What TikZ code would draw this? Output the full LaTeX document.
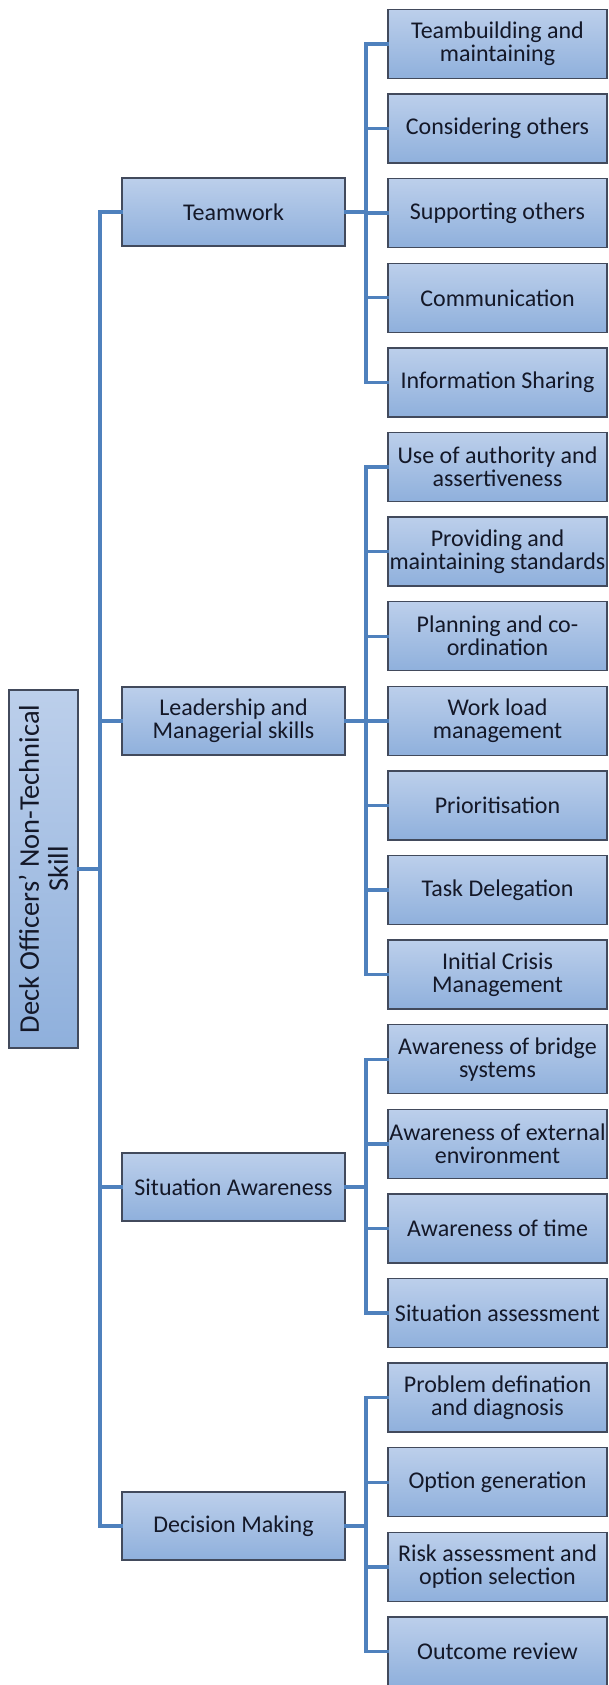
\documentclass[tikz,border=0pt]{standalone}
\usepackage{fontspec}
\setmainfont{Carlito}
\definecolor{boxtop}{RGB}{188,207,235}
\definecolor{boxbot}{RGB}{143,176,220}
\definecolor{boxline}{RGB}{66,74,92}
\definecolor{conncol}{RGB}{79,129,189}
\definecolor{txtcol}{RGB}{20,24,40}
\tikzset{
  box/.style={draw=boxline, line width=1.3pt, top color=boxtop, bottom color=boxbot,
    text=txtcol, align=center, inner sep=0pt, font=\fontsize{24}{23}\selectfont},
  leaf/.style={box, minimum width=219pt, minimum height=69pt},
  midbox/.style={box, minimum width=223pt, minimum height=68pt},
  rootbox/.style={box, rotate=90, minimum width=358pt, minimum height=69pt,
    font=\fontsize{28.5}{29}\selectfont},
  conn/.style={draw=conncol, line width=3.4pt, line cap=rect}
}
\begin{document}
\begin{tikzpicture}[x=1pt,y=-1pt]
\useasboundingbox (0,0) rectangle (608,1685);
% buses
\coordinate (rbus) at (100,0);
\coordinate (lbus) at (366,0);
% root
\node[rootbox] (root) at (43.5,869) {Deck Officers' Non-Technical\\Skill};
% middle level
\node[midbox] (tw) at (233.5,212) {Teamwork};
\node[midbox] (lm) at (233.5,721) {Leadership and\\Managerial skills};
\node[midbox] (sa) at (233.5,1187) {Situation Awareness};
\node[midbox] (dm) at (233.5,1526) {Decision Making};
% leaves
\foreach \t [count=\i] in {
  {Teambuilding and\\maintaining},
  {Considering others},
  {Supporting others},
  {Communication},
  {Information Sharing},
  {Use of authority and\\assertiveness},
  {Providing and\\maintaining standards},
  {Planning and co-\\ordination},
  {Work load\\management},
  {Prioritisation},
  {Task Delegation},
  {Initial Crisis\\Management},
  {Awareness of bridge\\systems},
  {Awareness of external\\environment},
  {Awareness of time},
  {Situation assessment},
  {Problem defination\\and diagnosis},
  {Option generation},
  {Risk assessment and\\option selection},
  {Outcome review}}
{
  \node[leaf] (L\i) at (497.5,{44+84.6*(\i-1)}) {\t};
  \draw[conn] (L\i.west -| lbus) -- (L\i.west);
}
% root connectors
\draw[conn] (root.south) -- (root.south -| rbus);
\draw[conn] (tw.west -| rbus) -- (dm.west -| rbus);
\foreach \m in {tw,lm,sa,dm} {
  \draw[conn] (\m.west -| rbus) -- (\m.west);
}
% middle to leaf buses
\draw[conn] (tw.east) -- (tw.east -| lbus);
\draw[conn] (L1.west -| lbus) -- (L5.west -| lbus);
\draw[conn] (lm.east) -- (lm.east -| lbus);
\draw[conn] (L6.west -| lbus) -- (L12.west -| lbus);
\draw[conn] (sa.east) -- (sa.east -| lbus);
\draw[conn] (L13.west -| lbus) -- (L16.west -| lbus);
\draw[conn] (dm.east) -- (dm.east -| lbus);
\draw[conn] (L17.west -| lbus) -- (L20.west -| lbus);
\end{tikzpicture}
\end{document}
